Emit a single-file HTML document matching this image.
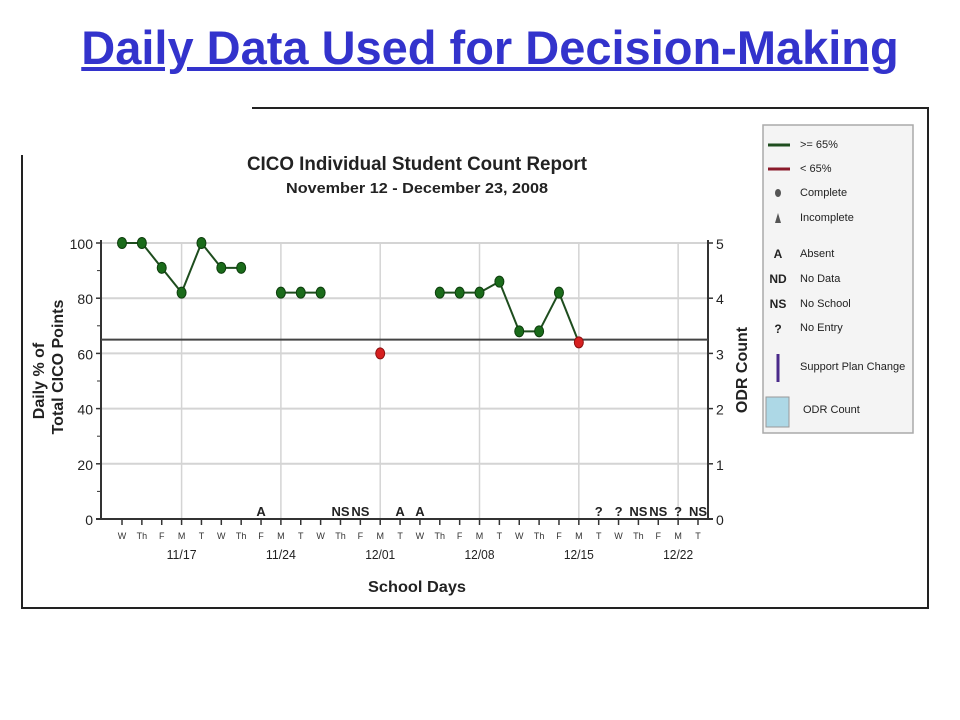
<!DOCTYPE html>
<html><head><meta charset="utf-8">
<style>
html,body{margin:0;padding:0;background:#fff;width:960px;height:720px;overflow:hidden;font-family:"Liberation Sans",sans-serif;}
#title{position:absolute;left:0;width:980px;top:20px;text-align:center;font-size:47px;font-weight:bold;color:#3333cc;text-decoration:underline;white-space:nowrap;}
svg{position:absolute;left:0;top:0;}
</style></head><body>
<div id="title">Daily Data Used for Decision-Making</div>
<svg id="chart" width="960" height="720" font-family="Liberation Sans, sans-serif"></svg>
<script>
const days = ["W","Th","F","M","T","W","Th","F","M","T","W","Th","F","M","T","W","Th","F","M","T","W","Th","F","M","T","W","Th","F","M","T"];
const scores = [100,100,91,82,100,91,91,null,82,82,82,null,null,60,null,null,82,82,82,86,68,68,82,64,null,null,null,null,null,null];
const codes = ["","","","","","","","A","","","","NS","NS","","A","A","","","","","","","","","?","?","NS","NS","?","NS"];
const dateLabels = ["11/17","11/24","12/01","12/08","12/15","12/22"];
const leftTicks = [0,20,40,60,80,100];
const rightTicks = [0,1,2,3,4,5];
const threshold = 65;

const NS="http://www.w3.org/2000/svg";
const svg=document.getElementById('chart');
const X0=122, X1=698, YB=519, YT=243, AXL=101, AXR=708;
const xs=i=>X0+(X1-X0)*i/(days.length-1);
const ys=v=>YB-(YB-YT)*v/100;
function mk(tag,attrs,parent){const e=document.createElementNS(NS,tag);for(const k in attrs)e.setAttribute(k,attrs[k]);(parent||svg).appendChild(e);return e;}
function txt(s,attrs){const e=mk('text',attrs);e.textContent=s;return e;}

let e;
e=mk('path',{d:"M22 155 V608 H928 V108 H252",fill:"none",stroke:"#222","stroke-width":2});



e=txt("CICO Individual Student Count Report",{x:417,y:170,"text-anchor":"middle","font-size":19,"font-weight":"bold",fill:"#222",textLength:340,lengthAdjust:"spacingAndGlyphs"});


e=txt("November 12 - December 23, 2008",{x:417,y:193,"text-anchor":"middle","font-size":15,"font-weight":"bold",fill:"#222",textLength:262,lengthAdjust:"spacingAndGlyphs"});



leftTicks.forEach(v=>{
  if(v>0){e=mk('line',{x1:AXL,x2:AXR,y1:ys(v),y2:ys(v),stroke:"#d4d4d4","stroke-width":2});
  
  }
  e=txt(String(v),{x:AXL-8,y:ys(v)+6,"text-anchor":"end","font-size":14,fill:"#222"});
  
  
  mk('line',{x1:AXL-5,x2:AXL,y1:ys(v),y2:ys(v),stroke:"#333","stroke-width":1.5});
  if(v<100){mk('line',{x1:AXL-4,x2:AXL,y1:ys(v+10),y2:ys(v+10),stroke:"#333","stroke-width":1});}
});
rightTicks.forEach(v=>{
  const y=YB-(YB-YT)*v/5;
  mk('line',{x1:AXR,x2:AXR+5,y1:y,y2:y,stroke:"#333","stroke-width":1.5});
  e=txt(String(v),{x:AXR+8,y:y+6,"font-size":14,fill:"#222"});
  
  
});
days.forEach((d,i)=>{
  if(d==="M"){e=mk('line',{x1:xs(i),x2:xs(i),y1:YT,y2:YB,stroke:"#d4d4d4","stroke-width":1.5});
  
  }
});
e=mk('line',{x1:AXL,x2:AXL,y1:YT-3,y2:YB,stroke:"#333","stroke-width":2});


e=mk('line',{x1:AXR,x2:AXR,y1:YT-3,y2:YB,stroke:"#333","stroke-width":2});


e=mk('line',{x1:AXL-5,x2:AXR+5,y1:YB,y2:YB,stroke:"#333","stroke-width":2});


e=mk('line',{x1:AXL,x2:AXR,y1:ys(threshold),y2:ys(threshold),stroke:"#444","stroke-width":2});



let di=0;
days.forEach((d,i)=>{
  mk('line',{x1:xs(i),x2:xs(i),y1:YB,y2:YB+6,stroke:"#333","stroke-width":1.5});
  e=txt(d,{x:xs(i),y:YB+20,"text-anchor":"middle","font-size":9,fill:"#333"});
  
  
  if(d==="M"){
    e=txt(dateLabels[di++]||"",{x:xs(i),y:YB+40,"text-anchor":"middle","font-size":13,fill:"#222",textLength:30,lengthAdjust:"spacingAndGlyphs"});
    
    
  }
  if(codes[i]){
    e=txt(codes[i],{x:xs(i),y:YB-3,"text-anchor":"middle","font-size":13,"font-weight":"bold",fill:"#222"});
    
    
  }
});
e=txt("School Days",{x:417,y:592,"text-anchor":"middle","font-size":16,"font-weight":"bold",fill:"#222",textLength:98,lengthAdjust:"spacingAndGlyphs"});


e=txt("Daily % of",{x:0,y:0,"text-anchor":"middle","font-size":16,"font-weight":"bold",fill:"#222",transform:"translate(44,381) rotate(-90)"});


e=txt("Total CICO Points",{x:0,y:0,"text-anchor":"middle","font-size":16,"font-weight":"bold",fill:"#222",transform:"translate(63,367) rotate(-90)"});


e=txt("ODR Count",{x:0,y:0,"text-anchor":"middle","font-size":16,"font-weight":"bold",fill:"#222",transform:"translate(747,370) rotate(-90)"});



for(let i=0;i<scores.length-1;i++){
  if(scores[i]!=null&&scores[i+1]!=null){
    e=mk('line',{x1:xs(i),y1:ys(scores[i]),x2:xs(i+1),y2:ys(scores[i+1]),stroke:"#1e4d1e","stroke-width":2});
    
    
  }
}
scores.forEach((v,i)=>{
  if(v==null)return;
  const red=v<threshold;
  e=mk('ellipse',{cx:xs(i),cy:ys(v),rx:4.5,ry:5.5,fill:red?"#d62020":"#1a6b1a",stroke:red?"#8a1010":"#0d3d0d","stroke-width":1});
  
  
});

const lg=mk('g',{});


mk('rect',{x:763,y:125,width:150,height:308,fill:"#f4f4f4",stroke:"#aaa","stroke-width":1.5},lg);
function ltext(s,y,x){const t=mk('text',{x:x||800,y:y,"font-size":11,fill:"#222"},lg);t.textContent=s;return t;}
mk('line',{x1:768,x2:790,y1:145,y2:145,stroke:"#1e4d1e","stroke-width":3},lg);ltext(">= 65%",148);
mk('line',{x1:768,x2:790,y1:169,y2:169,stroke:"#8a1a2a","stroke-width":3},lg);ltext("< 65%",172);
mk('ellipse',{cx:778,cy:193,rx:3,ry:4,fill:"#555"},lg);ltext("Complete",196);
mk('path',{d:"M775 223 L778 213 L781 223 Z",fill:"#555"},lg);ltext("Incomplete",221);
const sym=(s,y)=>{const t=mk('text',{x:778,y:y,"text-anchor":"middle","font-size":12,"font-weight":"bold",fill:"#222"},lg);t.textContent=s;};
sym("A",258);ltext("Absent",257);
sym("ND",283);ltext("No Data",282);
sym("NS",308);ltext("No School",307);
sym("?",333);ltext("No Entry",331);
mk('line',{x1:778,x2:778,y1:354,y2:382,stroke:"#4a2a8a","stroke-width":3},lg);ltext("Support Plan Change",370);
mk('rect',{x:766,y:397,width:23,height:30,fill:"#add8e6",stroke:"#999"},lg);ltext("ODR Count",413,803);
</script>
</body></html>
